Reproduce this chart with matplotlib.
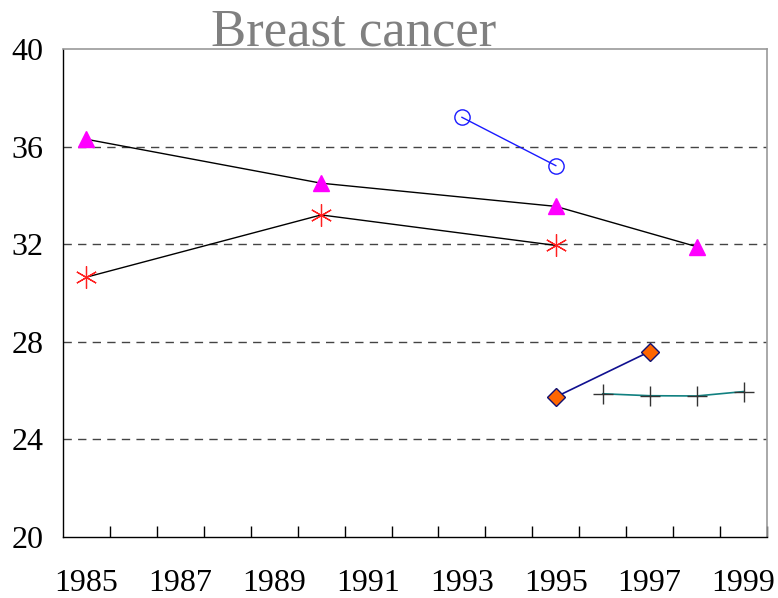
import matplotlib
matplotlib.use("Agg")
import matplotlib.pyplot as plt
import numpy as np

plt.rcParams['font.family'] = ['Liberation Serif', 'DejaVu Serif']

title = "Breast cancer"
year_ticks = [1985, 1987, 1989, 1991, 1993, 1995, 1997, 1999]
y_ticks = [20, 24, 28, 32, 36, 40]

tri_years = [1985, 1990, 1995, 1998]
tri_vals = [36.3, 34.5, 33.55, 31.9]

ast_years = [1985, 1990, 1995]
ast_vals = [30.65, 33.2, 31.95]

circ_years = [1993, 1995]
circ_vals = [37.2, 35.22]

dia_years = [1995, 1997]
dia_vals = [25.74, 27.6]

plus_years = [1996, 1997, 1998, 1999]
plus_vals = [25.87, 25.79, 25.78, 25.96]

fig = plt.figure(figsize=(7.78, 5.98), dpi=100)
ax = fig.add_axes([63/778, 1-537/598, (767-63)/778, (537-49)/598])

for y in [24, 28, 32, 36]:
    ax.axhline(y, color='#444444', lw=1.0, dashes=(6, 4.5), zorder=1)

ax.plot(tri_years, tri_vals, color='black', lw=1.0, marker='^', ms=12,
        mfc='#ff00ff', mec='#ff00ff', zorder=3)
ax.plot(ast_years, ast_vals, color='black', lw=1.0, marker=(6, 2, 0), ms=16,
        mec='#ff2020', mew=0.9, zorder=3)
ax.plot(circ_years, circ_vals, color='#1a1aff', lw=1.0, marker='o', ms=11,
        mfc='none', mec='#1a1aff', mew=1.0, zorder=3)
ax.plot(dia_years, dia_vals, color='#101090', lw=1.2, marker='D', ms=9,
        mfc='#ff6600', mec='#101070', mew=1.0, zorder=3)
ax.plot(plus_years, plus_vals, color='#108080', lw=1.2, marker='+', ms=14,
        mec='#333333', mew=1.0, zorder=3)

ax.set_xlim(1984.5, 1999.5)
ax.set_ylim(20, 40)
ax.set_xticks(year_ticks)
ax.set_xticklabels([str(y) for y in year_ticks])
ax.set_xticks(np.arange(1985.5, 1999.6, 1.0), minor=True)
ax.set_yticks(y_ticks)
ax.tick_params(axis='x', which='major', length=0, pad=23, labelsize=23)
ax.tick_params(axis='x', which='minor', direction='in', length=8, width=1.0, color='black')
ax.tick_params(axis='y', which='major', length=0, pad=14, labelsize=23)

for s in ['left', 'bottom']:
    ax.spines[s].set_color('black')
    ax.spines[s].set_linewidth(1.0)
for s in ['top', 'right']:
    ax.spines[s].set_color('#999999')
    ax.spines[s].set_linewidth(1.2)

fig.text(354/778, 1-46/598, title, ha='center', va='baseline',
         fontsize=38, color='#808080')

fig.savefig("out.png", dpi=100)
